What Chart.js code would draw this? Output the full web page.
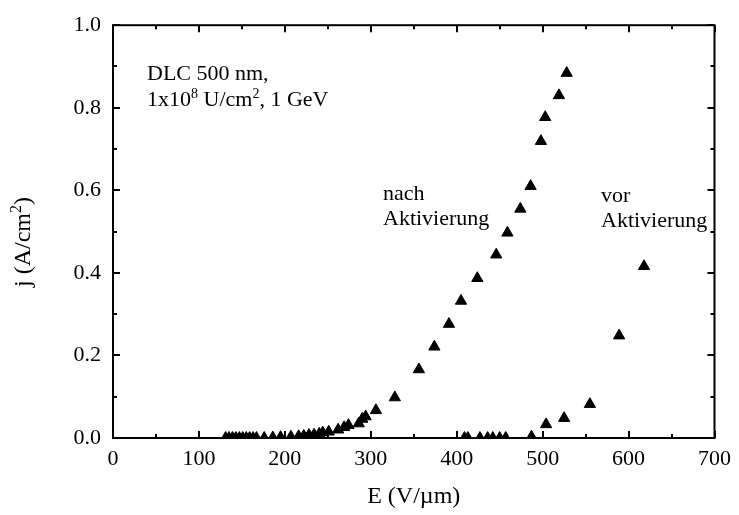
<!DOCTYPE html>
<html lang="de">
<head>
    <meta charset="UTF-8">
    <title>j(E) DLC 500 nm</title>
    <script src="https://cdn.jsdelivr.net/npm/chart.js"></script>
    <style>
        body { margin: 0; background: #fff; }
    </style>
</head>
<body>
    <canvas id="jeChart" width="739" height="515"></canvas>

    <script>
        // nach Aktivierung
        const nachE = [131, 135, 139, 143, 147, 151, 155, 159, 163, 167, 176, 186, 195, 207, 216, 222, 228, 234, 240, 244,
                       251, 262, 269, 274, 286, 290, 294, 306, 328, 356, 374, 391, 405, 424, 446, 459, 474, 486, 498, 503, 519, 528];
        const nachJ = [0, 0, 0, 0, 0, 0, 0, 0, 0, 0, 0, 0.001, 0.002, 0.003, 0.004, 0.005, 0.007, 0.008, 0.010, 0.013,
                       0.015, 0.020, 0.026, 0.031, 0.035, 0.046, 0.052, 0.067, 0.098, 0.166, 0.221, 0.276, 0.332, 0.387, 0.444, 0.497, 0.555, 0.610, 0.719, 0.777, 0.830, 0.884];

        // vor Aktivierung
        const vorE = [409, 413, 427, 436, 442, 450, 457, 487, 504, 525, 555, 589, 618];
        const vorJ = [0, 0, 0, 0, 0, 0, 0, 0.003, 0.033, 0.048, 0.082, 0.248, 0.416];

        const xTicks = [0, 100, 200, 300, 400, 500, 600, 700];
        const yTicks = [0.0, 0.2, 0.4, 0.6, 0.8, 1.0];

        const serif = '"Liberation Serif", "DejaVu Serif", serif';

        function pts(xs, ys) {
            return xs.map((x, i) => ({ x: x, y: ys[i] }));
        }

        // Text mit hochgestellten Teilen, gibt die Breite zurueck
        function runs(c, x, y, parts, size, draw) {
            let w = 0;
            for (const p of parts) {
                c.font = (p.sup ? Math.round(size * 0.65) : size) + 'px ' + serif;
                if (draw) c.fillText(p.t, x + w, p.sup ? y - size * 0.38 : y);
                w += c.measureText(p.t).width;
            }
            return w;
        }

        // Rahmen mit Innen-Ticks (Haupt- und Nebenticks) auf allen vier Seiten
        const framePlugin = {
            id: 'frame',
            afterDraw(chart) {
                const c = chart.ctx;
                const a = chart.chartArea;
                const xs = chart.scales.x, ys = chart.scales.y;
                c.save();
                c.strokeStyle = '#000';
                c.lineWidth = 2;
                c.strokeRect(a.left, a.top, a.right - a.left, a.bottom - a.top);
                c.beginPath();
                for (let v = 0; v <= 700; v += 50) {
                    const px = Math.round(xs.getPixelForValue(v));
                    const len = (v % 100 === 0) ? 7 : 4;
                    c.moveTo(px, a.bottom); c.lineTo(px, a.bottom - len);
                    c.moveTo(px, a.top); c.lineTo(px, a.top + len);
                }
                for (let k = 0; k <= 10; k++) {
                    const py = Math.round(ys.getPixelForValue(k / 10));
                    const len = (k % 2 === 0) ? 7 : 4;
                    c.moveTo(a.left, py); c.lineTo(a.left + len, py);
                    c.moveTo(a.right, py); c.lineTo(a.right - len, py);
                }
                c.stroke();
                c.restore();
            }
        };

        // Beschriftungen im Diagramm + y-Achsentitel
        const labelPlugin = {
            id: 'labels',
            afterDraw(chart) {
                const c = chart.ctx;
                c.save();
                c.fillStyle = '#000';
                c.textBaseline = 'alphabetic';
                c.textAlign = 'left';

                runs(c, 147, 80, [{ t: 'DLC 500 nm,' }], 22, true);
                runs(c, 147, 106, [{ t: '1x10' }, { t: '8', sup: true }, { t: ' U/cm' }, { t: '2', sup: true }, { t: ', 1 GeV' }], 22, true);

                runs(c, 383, 200, [{ t: 'nach' }], 22, true);
                runs(c, 383, 225, [{ t: 'Aktivierung' }], 22, true);
                runs(c, 601, 202, [{ t: 'vor' }], 22, true);
                runs(c, 601, 227, [{ t: 'Aktivierung' }], 22, true);

                // y-Titel, gedreht
                const yTitle = [{ t: 'j (A/cm' }, { t: '2', sup: true }, { t: ')' }];
                const w = runs(c, 0, 0, yTitle, 24, false);
                c.translate(30, 242);
                c.rotate(-Math.PI / 2);
                runs(c, -w / 2, 0, yTitle, 24, true);
                c.restore();
            }
        };

        const ctx = document.getElementById('jeChart').getContext('2d');

        const chart = new Chart(ctx, {
            type: 'scatter',
            data: {
                datasets: [{
                    label: 'nach Aktivierung',
                    data: pts(nachE, nachJ),
                    pointStyle: 'triangle',
                    pointRadius: 6.5,
                    backgroundColor: '#000',
                    borderColor: '#000',
                    borderWidth: 1,
                    clip: 0
                }, {
                    label: 'vor Aktivierung',
                    data: pts(vorE, vorJ),
                    pointStyle: 'triangle',
                    pointRadius: 6.5,
                    backgroundColor: '#000',
                    borderColor: '#000',
                    borderWidth: 1,
                    clip: 0
                }]
            },
            options: {
                responsive: false,
                animation: false,
                layout: { padding: { left: 0, right: 22, top: 18, bottom: 0 } },
                plugins: {
                    legend: { display: false },
                    tooltip: { enabled: false }
                },
                scales: {
                    x: {
                        type: 'linear',
                        min: 0,
                        max: 700,
                        afterBuildTicks: (s) => { s.ticks = xTicks.map(v => ({ value: v })); },
                        afterFit: (s) => { s.height = 77; },
                        grid: { display: false, drawTicks: false },
                        border: { display: false },
                        ticks: {
                            padding: 8,
                            color: '#000',
                            font: { family: serif, size: 22 },
                            maxRotation: 0
                        },
                        title: {
                            display: true,
                            text: 'E (V/\u00b5m)',
                            color: '#000',
                            font: { family: serif, size: 24 },
                            padding: { top: 0, bottom: 4 }
                        }
                    },
                    y: {
                        type: 'linear',
                        min: 0,
                        max: 1,
                        afterBuildTicks: (s) => { s.ticks = yTicks.map(v => ({ value: v })); },
                        afterFit: (s) => { s.width = 113; },
                        grid: { display: false, drawTicks: false },
                        border: { display: false },
                        ticks: {
                            padding: 12,
                            color: '#000',
                            font: { family: serif, size: 22 },
                            callback: (v) => Number(v).toFixed(1)
                        },
                        title: { display: false }
                    }
                }
            },
            plugins: [framePlugin, labelPlugin]
        });
    </script>
</body>
</html>
